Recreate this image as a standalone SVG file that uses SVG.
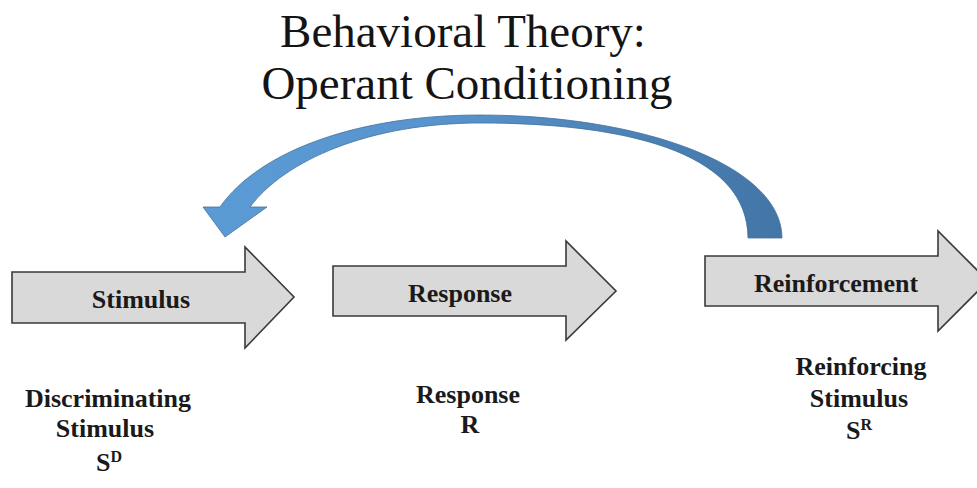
<svg xmlns="http://www.w3.org/2000/svg" width="977" height="488" viewBox="0 0 977 488">
<style>
.title{font-family:"Liberation Serif","Times New Roman",serif;font-size:47px;fill:#141414;text-anchor:middle}
.lbl{font-family:"Liberation Serif","Times New Roman",serif;font-size:26px;font-weight:bold;fill:#1a1a1a;text-anchor:middle}
.block{fill:#d9d9d9;stroke:#3a3a3a;stroke-width:1.6;stroke-linejoin:miter}
.sup{font-size:16px}
</style>
<defs>
<linearGradient id="blue" gradientUnits="userSpaceOnUse" x1="200" y1="0" x2="782" y2="0">
<stop offset="0" stop-color="#5b9bd5"/>
<stop offset="0.4" stop-color="#5894cd"/>
<stop offset="1" stop-color="#4375a6"/>
</linearGradient>
</defs>
<rect width="977" height="488" fill="#ffffff"/>
<g id="title">
<text class="title" x="463" y="47">Behavioral Theory:</text>
<text class="title" x="467" y="99">Operant Conditioning</text>
</g>
<g id="connectors">
<path d="M782,238 C782,165 640,115 480,115 C360,115 260,150 220,207 L203,207 L225,237 L267,207 L250,207 C285,160 370,123 480,123 C620,123 748,150 748,238 Z" fill="url(#blue)" stroke="#41719c" stroke-width="0.8"/>
</g>
<g id="stimulus">
<path class="block" d="M12,272 H245 V247 L294,297 L245,348 V323 H12 Z"/>
<text class="lbl" x="141" y="308">Stimulus</text>
</g>
<g id="response">
<path class="block" d="M333,266 H566 V241 L616,291 L566,340 V316 H333 Z"/>
<text class="lbl" x="460" y="302">Response</text>
</g>
<g id="reinforcement">
<path class="block" d="M705,256 H938 V231 L988,281 L938,331 V306 H705 Z"/>
<text class="lbl" x="836" y="292">Reinforcement</text>
</g>
<g id="discriminating-stimulus">
<text class="lbl" x="108" y="407">Discriminating</text>
<text class="lbl" x="105" y="437">Stimulus</text>
<text class="lbl" x="109" y="471">S<tspan class="sup" dy="-9">D</tspan></text>
</g>
<g id="response-r">
<text class="lbl" x="468" y="403">Response</text>
<text class="lbl" x="470" y="433">R</text>
</g>
<g id="reinforcing-stimulus">
<text class="lbl" x="861" y="375">Reinforcing</text>
<text class="lbl" x="859" y="407">Stimulus</text>
<text class="lbl" x="859" y="439">S<tspan class="sup" dy="-9">R</tspan></text>
</g>
</svg>
